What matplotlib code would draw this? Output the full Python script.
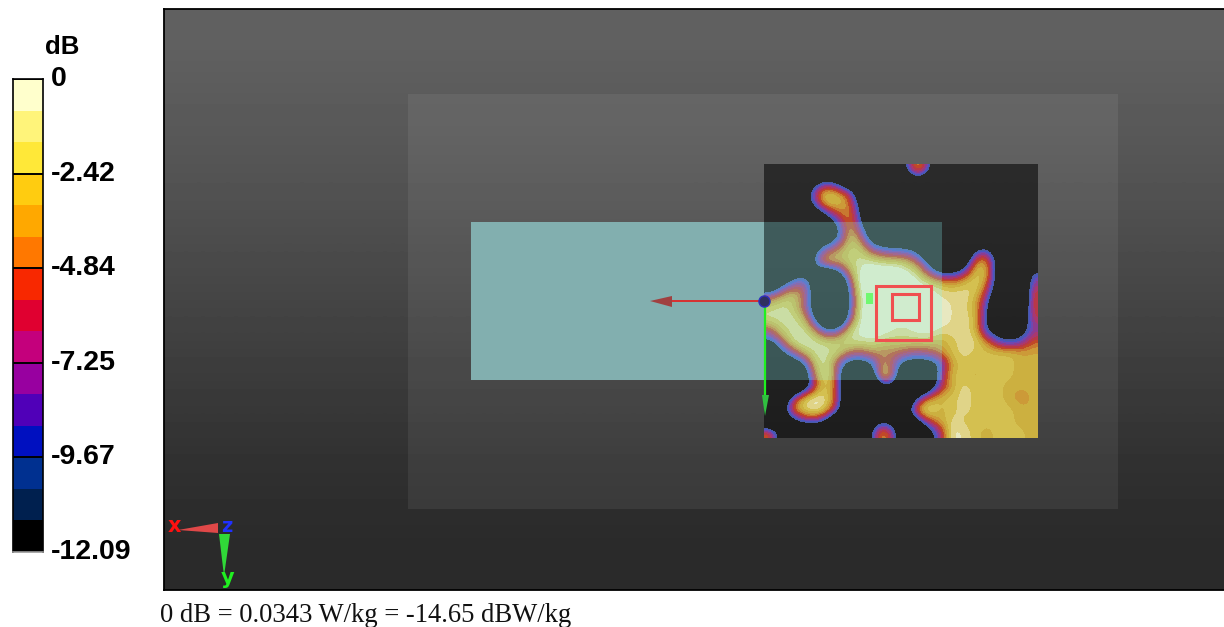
import matplotlib
matplotlib.use("Agg")
import matplotlib.pyplot as plt
import numpy as np
from matplotlib.colors import BoundaryNorm, ListedColormap
from matplotlib.patches import Polygon, Rectangle

W, H = 1224, 627

# colour scale, dB
scale_ticks = [0, -2.42, -4.84, -7.25, -9.67, -12.09]
scale_labels = ["0", "-2.42", "-4.84", "-7.25", "-9.67", "-12.09"]
scale_colors = ["#000000", "#00204f", "#003090", "#0010c0", "#5000b8", "#9800a0",
                "#c4007c", "#e00030", "#f82800", "#ff7800", "#ffa800", "#ffcc10",
                "#ffe838", "#fff47a", "#ffffcc"]
# the same bands as they look on the washed out map, lowest two do not show
map_colors = ["#4a5aa8", "#4a55c0", "#7048b0", "#8c3c90", "#a83870", "#b83848", "#c04828",
              "#c87830", "#cc9a38", "#ccb040", "#d4c050", "#e0d488", "#e8e8c0"]
caption = "0 dB = 0.0343 W/kg = -14.65 dBW/kg"

# background greys, top to bottom
bg_greys = [0.375, 0.345, 0.31, 0.27, 0.23, 0.19, 0.165]

# SAR map in dB, read on a 24 x 24 grid, B = below the scale
B = -20
sar_db = [
    [B, B, -11, B, B, B, B, B, B, B, B, B, -9, -2, -9, B, B, B, B, B, B, B, B, B],
    [B, B, B, B, -13, -10, -13, B, B, B, B, B, B, -13, B, B, B, B, B, B, B, B, B, B],
    [B, B, B, -14, -6, -1, -3, -6, -16, B, B, B, B, B, B, B, B, B, B, B, B, B, B, B],
    [B, B, B, -16, -8, -2, -2, -4, -13, B, B, B, B, B, B, B, B, B, B, B, B, B, B, B],
    [B, B, B, B, -16, -11, -6, -3, -11, B, B, B, B, B, B, B, B, B, B, B, B, B, B, B],
    [B, B, B, B, B, -16, -11, -3, -9, -16, B, B, B, B, B, B, B, B, B, B, B, B, B, B],
    [B, B, B, B, -16, -15, -11, -2, -5, -14, -16, -16, -16, B, B, B, B, B, B, B, B, B, B, B],
    [B, B, B, B, -12, -7, -4, -2, -2, -7, -9, -10, -10, -12, B, B, B, B, -11, -8, -16, B, B, B],
    [B, B, B, B, -8, -2, -3, -2, -1, -1, -2, -2, -3, -6, -12, B, B, -16, -4, -3, -13, B, B, B],
    [B, B, -14, -13, -15, -16, -12, -4, 0, 1, 1, 1, 0, -2, -7, -11, -11, -8, -2, -2, -13, B, B, -9],
    [B, -12, -8, -6, -14, B, B, -8, 1, 1, 1, 1, 1, 0, -1, -2, -3, -2, -1, -4, -14, B, B, -7],
    [-7, -4, -2, -5, -14, B, B, -10, 0, 1, 1, 1, 1, 1, 0, -1, -1, -1, -2, -7, -16, B, B, -5],
    [-2, -1, -2, -6, -14, B, B, -10, 0, 1, 1, 1, 0, 0, 1, 0, -1, -1, -3, -9, B, B, B, -5],
    [-1, -1, -1, -3, -11, B, B, -8, 0, 1, 1, 0, 0, 0, 1, 0, -1, -1, -2, -10, B, B, -16, -6],
    [-6, -2, -1, -1, -5, -11, -9, -2, 0, 1, 0, -1, -1, 0, 0, -1, -1, -1, -2, -11, -14, -15, -14, -8],
    [-11, -6, -1, 0, -1, -2, -2, -1, -1, -1, -2, -2, -2, -2, -2, -3, -2, -1, -1, -4, -9, -11, -9, -5],
    [B, -12, -7, -3, -1, -1, -2, -5, -6, -4, -5, -5, -6, -7, -6, -4, -2, -1, -2, -2, -2, -2, -3, -3],
    [-10, -16, -15, -11, -2, -1, -7, -13, -13, -11, -3, -8, -13, -13, -13, -10, -3, -2, -2, -2, -2, -2, -3, -3],
    [-10, B, B, -15, -4, 0, -7, B, B, -13, 0, -8, B, B, -16, -8, -2, -2, -3, -2, -2, -2, -3, -3],
    [B, B, B, -15, -6, -1, -7, B, B, B, -11, -13, B, B, -15, -7, -3, -1, -2, -2, -2, -3, -3, -3],
    [B, B, -7, -2, 0, -1, -7, B, B, B, B, B, B, -9, -4, -2, -2, -1, -2, -2, -2, -3, -4, -3],
    [B, -13, -4, -1, 0, -2, -8, B, B, B, B, B, -12, -2, 0, -3, -2, -1, -2, -2, -2, -2, -3, -3],
    [B, B, -12, -8, -7, -11, B, B, B, -14, -11, -14, B, -11, -5, -3, -1, -2, -2, -2, -2, -2, -3, -3],
    [-4, -13, B, B, B, B, B, B, B, -9, -2, -9, B, B, -13, -7, 0, -1, -2, -3, -2, -2, -2, -3],
]

fig = plt.figure(figsize=(W / 100, H / 100), dpi=100, facecolor="white")


def px_axes(x0, y0, x1, y1):
    return fig.add_axes([x0 / W, 1 - y1 / H, (x1 - x0) / W, (y1 - y0) / H])


# main view, data units are reference pixels
ax = px_axes(164, 9, 1224, 590)
ax.set_xticks([])
ax.set_yticks([])
ax.spines["right"].set_visible(False)
for s in ["left", "top", "bottom"]:
    ax.spines[s].set_linewidth(1.3)

ax.imshow(np.array(bg_greys).reshape(-1, 1), extent=(164, 1224, 590, 9), cmap="gray",
          vmin=0, vmax=1, aspect="auto", interpolation="bilinear", zorder=0)
ax.add_patch(Rectangle((408, 94), 710, 415, fc="white", alpha=0.065, ec="none", zorder=1))
ax.add_patch(Rectangle((764, 164), 274, 274, fc="black", alpha=0.55, ec="none", zorder=2))

levels = np.linspace(-12.09, 0, len(scale_colors) + 1)
cmap = ListedColormap(scale_colors)

map_cmap = ListedColormap([(0, 0, 0, 0), (0, 0, 0, 0)] + map_colors)
map_cmap.set_under((0, 0, 0, 0))
map_cmap.set_over(map_colors[-1])
map_norm = BoundaryNorm(levels, map_cmap.N)
ax.imshow(np.array(sar_db, dtype=float), extent=(764, 1038, 438, 164), cmap=map_cmap, norm=map_norm,
          aspect="auto", interpolation="bicubic", interpolation_stage="data", zorder=3)
ax.set_xlim(164, 1224)
ax.set_ylim(590, 9)

# phantom plate, solid outside the map and see-through over it
ax.add_patch(Rectangle((471, 222), 293, 158, fc="#82afaf", ec="none", zorder=4))
ax.add_patch(Rectangle((764, 222), 178, 158, fc=(0.54, 0.98, 0.98), alpha=0.25, ec="none", zorder=4))

# zoom scan boxes and peak
ax.add_patch(Rectangle((866, 293), 7, 11, fc="#70f870", ec="none", zorder=5))
ax.add_patch(Rectangle((875.5, 286), 55, 54, fc="none", ec="#f05050", lw=2.2, zorder=6))
ax.add_patch(Rectangle((892, 293.5), 27, 26, fc="none", ec="#f05050", lw=2.2, zorder=6))

# source axes at the plate corner
ax.plot([764, 660], [301, 301], color="#d83030", lw=1.4, zorder=6)
ax.add_patch(Polygon([[650, 301], [672, 296], [672, 307]], fc="#a04040", ec="none", zorder=6))
ax.plot([765, 765], [301, 400], color="#20f020", lw=1.6, zorder=6)
ax.add_patch(Polygon([[765, 416], [762, 395], [769, 395]], fc="#30c040", ec="none", zorder=6))
ax.plot([764], [301], "o", ms=8, color="#303060", mec="#3030c0", mew=1, zorder=7)

# orientation triad
ax.add_patch(Polygon([[178, 530], [218, 523], [218, 533]], fc="#e04848", ec="none", zorder=6))
ax.add_patch(Polygon([[224, 576], [219, 534], [230, 534]], fc="#30d838", ec="none", zorder=6))
ax.text(174, 526, "x", color="#ff1010", fontsize=15, fontweight="bold", ha="center", va="center",
        family="DejaVu Sans", zorder=7)
ax.text(227, 526, "z", color="#2030ff", fontsize=14, fontweight="bold", ha="center", va="center",
        family="DejaVu Sans", zorder=7)
ax.text(228, 578, "y", color="#20f020", fontsize=15, fontweight="bold", ha="center", va="center",
        family="DejaVu Sans", zorder=7)

# colour bar
cax = px_axes(13, 79, 43, 552)
cax.pcolormesh([0, 1], levels, np.arange(len(scale_colors)).reshape(-1, 1), cmap=cmap,
               vmin=-0.5, vmax=len(scale_colors) - 0.5)
cax.set_xlim(0, 1)
cax.set_ylim(-12.09, 0)
cax.set_xticks([])
cax.yaxis.tick_right()
cax.set_yticks(scale_ticks)
cax.set_yticklabels(scale_labels, family="Liberation Sans", fontsize=20.5, fontweight="bold", va="center")
cax.tick_params(axis="y", length=0, pad=6)
for t in scale_ticks:
    cax.axhline(t, color="black", lw=1.4)
for s in cax.spines.values():
    s.set_linewidth(1.2)
cax.spines["bottom"].set_color("#999999")

fig.text(62 / W, 1 - 47 / H, "dB", family="Liberation Sans", fontsize=18.5, fontweight="bold",
         ha="center", va="center")
fig.text(160 / W, 1 - 622 / H, caption, family="Liberation Serif", fontsize=19.15,
         ha="left", va="baseline", color="#111111")

fig.savefig("out.png", dpi=100)
